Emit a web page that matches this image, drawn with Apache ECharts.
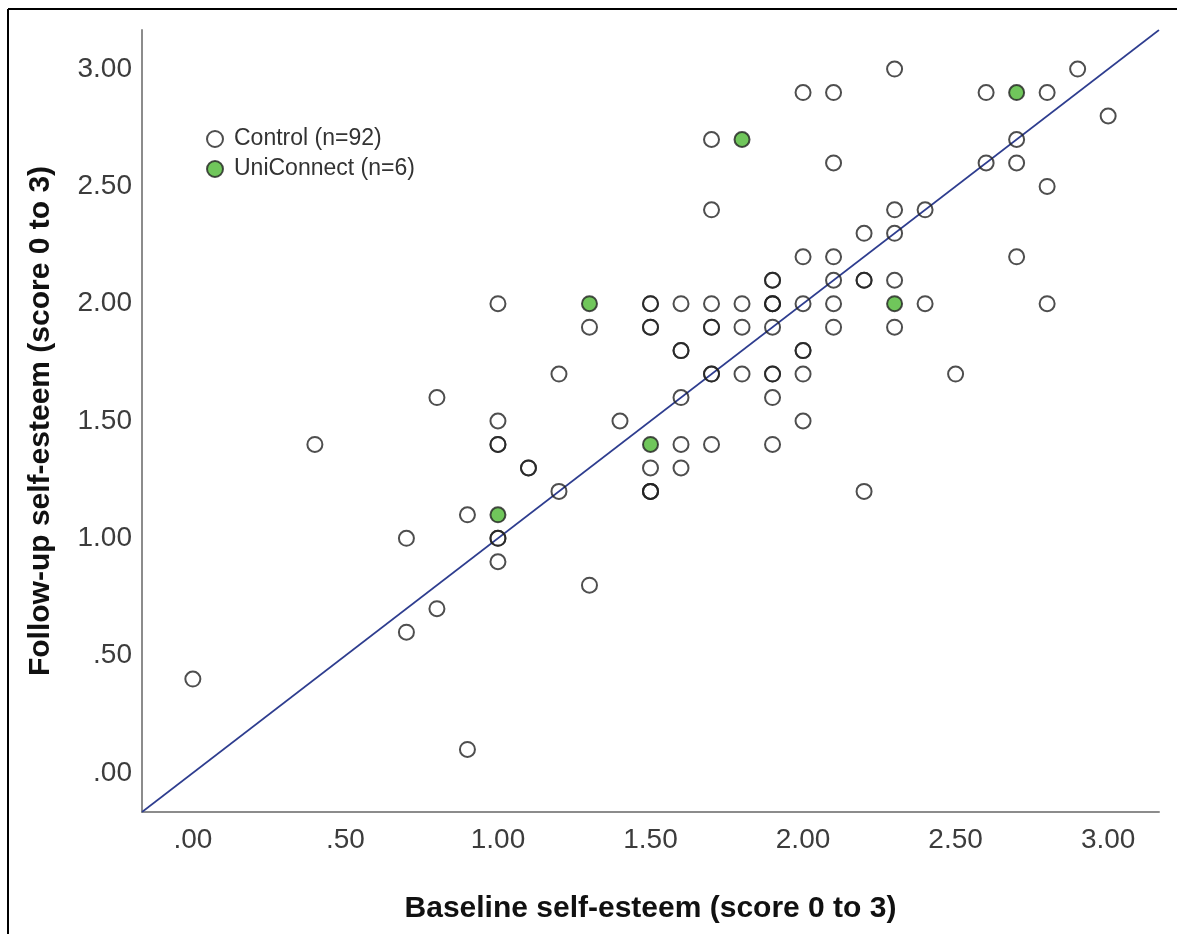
<!DOCTYPE html>
<html>
<head>
<meta charset="utf-8">
<title>Self-esteem at baseline and follow-up</title>
<script src="https://cdn.jsdelivr.net/npm/echarts@6/dist/echarts.min.js"></script>
<style>
  html, body { margin: 0; padding: 0; background: #fff; }
  #chart { width: 1177px; height: 934px; }
</style>
</head>
<body>
<div id="chart"></div>
<script>
// Scores (0 to 3): [baseline, follow-up]
const controlPoints = [
  [0.0, 0.4], [0.4, 1.4], [0.7, 1.0], [0.7, 0.6], [0.8, 1.6], [0.8, 0.7],
  [0.9, 1.1], [0.9, 0.1], [1.0, 2.0], [1.0, 1.5], [1.0, 1.4], [1.0, 1.4],
  [1.0, 1.0], [1.0, 1.0], [1.0, 0.9], [1.1, 1.3], [1.1, 1.3], [1.2, 1.7],
  [1.2, 1.2], [1.3, 1.9], [1.3, 0.8], [1.4, 1.5], [1.5, 2.0], [1.5, 2.0],
  [1.5, 1.9], [1.5, 1.9], [1.5, 1.3], [1.5, 1.2], [1.5, 1.2], [1.5, 1.2],
  [1.6, 2.0], [1.6, 1.8], [1.6, 1.8], [1.6, 1.6], [1.6, 1.4], [1.6, 1.3],
  [1.7, 2.7], [1.7, 2.4], [1.7, 2.0], [1.7, 1.9], [1.7, 1.9], [1.7, 1.7],
  [1.7, 1.7], [1.7, 1.4], [1.8, 2.0], [1.8, 1.9], [1.8, 1.7], [1.9, 2.1],
  [1.9, 2.1], [1.9, 2.0], [1.9, 2.0], [1.9, 2.0], [1.9, 1.9], [1.9, 1.7],
  [1.9, 1.7], [1.9, 1.6], [1.9, 1.4], [2.0, 2.9], [2.0, 2.2], [2.0, 2.0],
  [2.0, 1.8], [2.0, 1.8], [2.0, 1.7], [2.0, 1.5], [2.1, 2.9], [2.1, 2.6],
  [2.1, 2.2], [2.1, 2.1], [2.1, 2.0], [2.1, 1.9], [2.2, 2.3], [2.2, 2.1],
  [2.2, 2.1], [2.2, 1.2], [2.3, 3.0], [2.3, 2.4], [2.3, 2.3], [2.3, 2.1],
  [2.3, 1.9], [2.4, 2.4], [2.4, 2.0], [2.5, 1.7], [2.6, 2.9], [2.6, 2.6],
  [2.7, 2.7], [2.7, 2.6], [2.7, 2.2], [2.8, 2.9], [2.8, 2.5], [2.8, 2.0],
  [2.9, 3.0], [3.0, 2.8]
];
const uniConnectPoints = [
  [1.0, 1.1], [1.3, 2.0], [1.5, 1.4], [1.8, 2.7], [2.3, 2.0], [2.7, 2.9]
];
const tickValues = [0, 0.5, 1, 1.5, 2, 2.5, 3];
const axisMin = -1 / 6;
const axisMax = 19 / 6;

// Line of no change (follow-up = baseline), spanning the full axis range
const identityLine = [[axisMin, axisMin], [axisMax, axisMax]];

const fmt = v => v.toFixed(2).replace(/^0(?=\.)/, '');

const tickFont = { fontFamily: 'Liberation Sans', fontSize: 28, color: '#3c3c3c' };
const titleFont = { fontFamily: 'Liberation Sans', fontSize: 30, fontWeight: 'bold', color: '#111' };

const chart = echarts.init(document.getElementById('chart'), null, { renderer: 'canvas' });

chart.setOption({
  animation: false,
  backgroundColor: '#fff',
  graphic: [
    { type: 'line', shape: { x1: 8, y1: 9, x2: 1177, y2: 9 }, style: { stroke: '#000', lineWidth: 2 } },
    { type: 'line', shape: { x1: 8, y1: 9, x2: 8, y2: 934 }, style: { stroke: '#000', lineWidth: 2 } }
  ],
  grid: { left: 142, right: 18, top: 30, bottom: 122 },
  legend: {
    orient: 'vertical',
    left: 201,
    top: 122,
    itemWidth: 16,
    itemHeight: 16,
    itemGap: 6,
    icon: 'circle',
    textStyle: { fontFamily: 'Liberation Sans', fontSize: 23, color: '#333', lineHeight: 24, padding: [0, 0, 0, 6] },
    data: ['Control (n=92)', 'UniConnect (n=6)']
  },
  xAxis: {
    type: 'value',
    min: axisMin,
    max: axisMax,
    name: 'Baseline self-esteem (score 0 to 3)',
    nameLocation: 'middle',
    nameGap: 82,
    nameTextStyle: titleFont,
    splitLine: { show: false },
    axisTick: { show: false },
    axisLine: { onZero: false, lineStyle: { color: '#8c8c8c', width: 2 } },
    axisLabel: Object.assign({ customValues: tickValues, formatter: fmt, margin: 14 }, tickFont)
  },
  yAxis: {
    type: 'value',
    min: axisMin,
    max: axisMax,
    name: 'Follow-up self-esteem (score 0 to 3)',
    nameLocation: 'middle',
    nameGap: 86,
    nameTextStyle: titleFont,
    splitLine: { show: false },
    axisTick: { show: false },
    axisLine: { onZero: false, lineStyle: { color: '#8c8c8c', width: 2 } },
    axisLabel: Object.assign({ customValues: tickValues, formatter: fmt, margin: 10, padding: [12, 0, 0, 0] }, tickFont)
  },
  series: [
    {
      name: 'identity',
      type: 'line',
      data: identityLine,
      symbol: 'none',
      silent: true,
      lineStyle: { color: '#2e3d8f', width: 1.6 },
      z: 1
    },
    {
      name: 'Control (n=92)',
      type: 'scatter',
      data: controlPoints,
      symbol: 'circle',
      symbolSize: 15,
      itemStyle: { color: 'rgba(255,255,255,0)', borderColor: '#222', borderWidth: 2 },
      z: 3
    },
    {
      name: 'UniConnect (n=6)',
      type: 'scatter',
      data: uniConnectPoints,
      symbol: 'circle',
      symbolSize: 15,
      itemStyle: { color: '#4cb832', borderColor: '#222', borderWidth: 2 },
      z: 4
    }
  ]
});
</script>
</body>
</html>
